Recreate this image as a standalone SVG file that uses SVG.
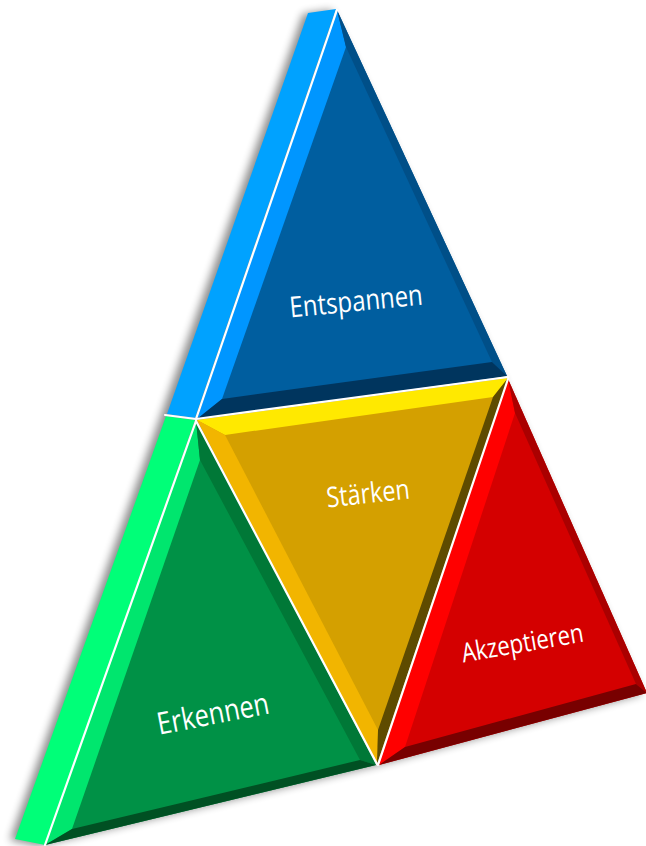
<svg xmlns="http://www.w3.org/2000/svg" width="646" height="846" viewBox="0 0 646 846">
  <defs>
    <filter id="soft-shadow" x="-20%" y="-20%" width="140%" height="140%">
      <feGaussianBlur stdDeviation="4"/>
    </filter>
    <style>
      .sep { fill: none; stroke: #ffffff; stroke-width: 2.2; stroke-linecap: round; }
      .label { font-family: "Open Sans", "Noto Sans", "DejaVu Sans", sans-serif; font-size: 24px; fill: #ffffff; text-anchor: middle; }
    </style>
  </defs>

  <rect width="646" height="846" fill="#ffffff"/>

  <!-- soft shadow behind the whole pyramid, thrown to the left -->
  <polygon points="303,14 331,10 502,377 642,694 374,766 38,846 10,840 161,415"
           fill="#000000" opacity="0.45" filter="url(#soft-shadow)"/>

  <!-- upper side slab -->
  <g id="slab-top">
    <polygon points="308,13 336,9 195,418 167,414" fill="#00A2FF"/>
  </g>

  <!-- lower side slab -->
  <g id="slab-bottom">
    <polygon points="166,416 195,420 45,845 15,839" fill="#00FF78"/>
  </g>

  <!-- top triangle -->
  <g id="entspannen">
    <polygon points="337,10 507,376 197,419" fill="#005E9F"/>
    <polygon points="337,10 346,47 222,399 197,419" fill="#0096FF"/>
    <polygon points="337,10 507,376 492,362 346,47" fill="#004F88"/>
    <polygon points="197,419 222,399 492,362 507,376" fill="#00355E"/>
    <text class="label" transform="translate(357,311) rotate(-5.5) scale(1,1.2)">Entspannen</text>
  </g>

  <!-- centre triangle, pointing down -->
  <g id="staerken">
    <polygon points="197,420 508,378 377,764" fill="#D4A000"/>
    <polygon points="197,420 508,378 493,397 225,435" fill="#FFE900"/>
    <polygon points="197,420 225,435 378,730 377,764" fill="#F2B500"/>
    <polygon points="508,378 377,764 378,730 493,397" fill="#5E4B00"/>
    <text class="label" style="font-size:23.4px" transform="translate(369,503) rotate(-6.2) scale(1,1.2)">Stärken</text>
  </g>

  <!-- lower left triangle -->
  <g id="erkennen">
    <polygon points="196,421 376,765 45,845" fill="#009146"/>
    <polygon points="196,421 200,460 72,829 45,845" fill="#00E66E"/>
    <polygon points="196,421 376,765 360,760 200,460" fill="#007837"/>
    <polygon points="45,845 72,829 360,760 376,765" fill="#005023"/>
    <text class="label" style="font-size:25.5px" transform="translate(215,724) rotate(-11) scale(1,1.2)">Erkennen</text>
  </g>

  <!-- lower right triangle -->
  <g id="akzeptieren">
    <polygon points="508,379 647,693 379,765" fill="#D40000"/>
    <polygon points="508,379 515,413 405,747 379,765" fill="#FF0000"/>
    <polygon points="508,379 647,693 636,684 515,413" fill="#AA0000"/>
    <polygon points="379,765 405,747 636,684 647,693" fill="#780000"/>
    <text class="label" style="font-size:22.2px" transform="translate(524,652) rotate(-9.8) scale(1,1.2)">Akzeptieren</text>
  </g>

  <!-- thin white seams between the pieces -->
  <g id="seams">
    <line class="sep" x1="337" y1="10" x2="196" y2="419"/>
    <line class="sep" x1="196" y1="421" x2="45" y2="845"/>
    <line class="sep" x1="165" y1="415" x2="196" y2="419"/>
    <line class="sep" x1="196" y1="419" x2="508" y2="377"/>
    <line class="sep" x1="196" y1="421" x2="377" y2="764"/>
    <line class="sep" x1="508" y1="379" x2="378" y2="765"/>
  </g>
</svg>
